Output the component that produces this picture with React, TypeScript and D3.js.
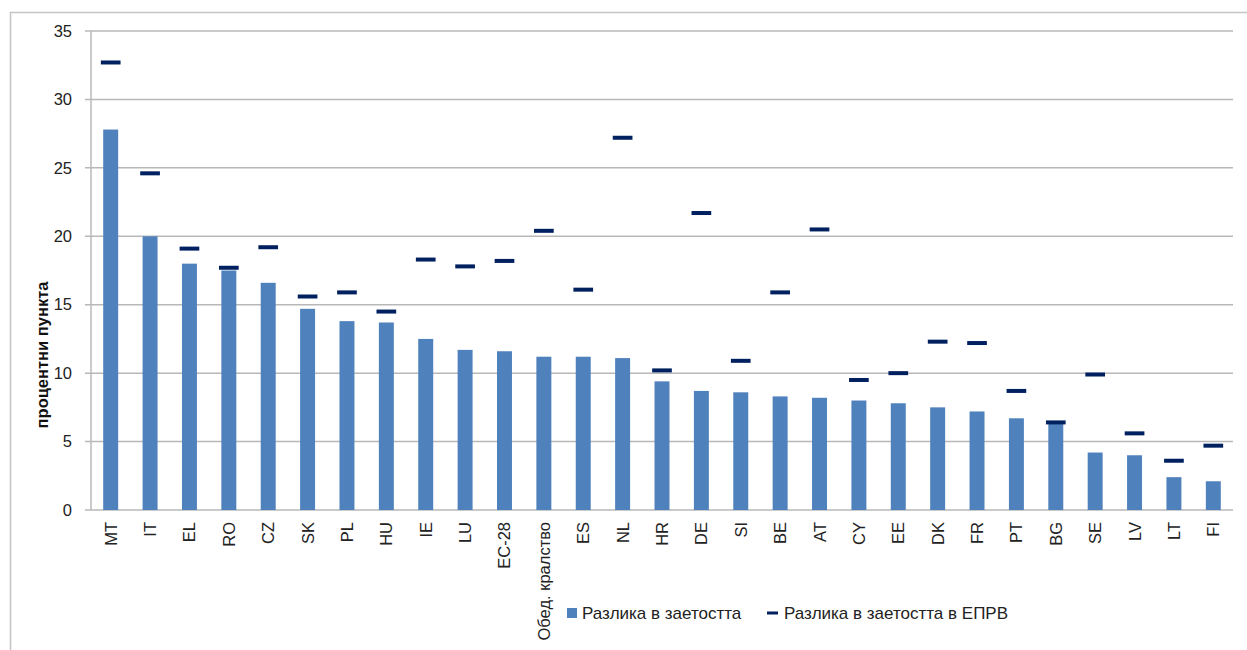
import React from "react";
import * as d3 from "d3";

// Държави (подредени по разликата в заетостта)
const countries = [
  "MT", "IT", "EL", "RO", "CZ", "SK", "PL", "HU", "IE", "LU", "EC-28",
  "Обед. кралство", "ES", "NL", "HR", "DE", "SI", "BE", "AT", "CY", "EE",
  "DK", "FR", "PT", "BG", "SE", "LV", "LT", "FI",
];

// Разлика в заетостта (колони)
const employmentGap = [
  27.8, 20.0, 18.0, 17.5, 16.6, 14.7, 13.8, 13.7, 12.5, 11.7, 11.6,
  11.2, 11.2, 11.1, 9.4, 8.7, 8.6, 8.3, 8.2, 8.0, 7.8,
  7.5, 7.2, 6.7, 6.5, 4.2, 4.0, 2.4, 2.1,
];

// Разлика в заетостта в ЕПРВ (маркери)
const fteGap = [
  32.7, 24.6, 19.1, 17.7, 19.2, 15.6, 15.9, 14.5, 18.3, 17.8, 18.2,
  20.4, 16.1, 27.2, 10.2, 21.7, 10.9, 15.9, 20.5, 9.5, 10.0,
  12.3, 12.2, 8.7, 6.4, 9.9, 5.6, 3.6, 4.7,
];

const yTicks = [0, 5, 10, 15, 20, 25, 30, 35];

const barLabel = "Разлика в заетостта";
const markerLabel = "Разлика в заетостта в ЕПРВ";
const yLabel = "процентни пункта";

export default function App() {
  const width = 1247;
  const height = 650;
  const margin = { top: 31, right: 14, bottom: 140, left: 91 };
  const font = "'Liberation Sans', Arial, sans-serif";
  const barColor = "#4F81BD";
  const markerColor = "#002060";
  const gridColor = "#b8b8b8";

  const x = d3.scaleBand<string>()
    .domain(countries)
    .range([margin.left, width - margin.right])
    .padding(0);

  const y = d3.scaleLinear()
    .domain([0, 35])
    .range([height - margin.bottom, margin.top]);

  const bw = x.bandwidth() * 0.38;
  const mw = x.bandwidth() * 0.5;

  return (
    <svg
      width={width}
      height={height}
      style={{ position: "absolute", left: 0, top: 0, background: "#fff", fontFamily: font }}
    >
      {/* рамка */}
      <rect x={10.5} y={12.5} width={width + 10} height={height + 10} fill="none" stroke="#c4c4c4" strokeWidth={1.5} />

      {/* мрежа и ос Y */}
      {yTicks.map(t => (
        <g key={t}>
          <line x1={margin.left - 6} x2={width - margin.right} y1={y(t)} y2={y(t)} stroke={gridColor} strokeWidth={1.5} />
          <text x={margin.left - 19} y={y(t)} dy="0.35em" textAnchor="end" fontSize={16.5} fill="#222">{t}</text>
        </g>
      ))}
      <line x1={margin.left} x2={margin.left} y1={margin.top} y2={y(0)} stroke={gridColor} strokeWidth={1.5} />

      <text
        transform={`translate(48,355) rotate(-90)`}
        textAnchor="middle"
        fontSize={16.5}
        fontWeight="bold"
        fill="#111"
      >
        {yLabel}
      </text>

      {/* колони */}
      {countries.map((c, i) => (
        <rect
          key={c}
          x={(x(c) ?? 0) + (x.bandwidth() - bw) / 2}
          y={y(employmentGap[i])}
          width={bw}
          height={y(0) - y(employmentGap[i])}
          fill={barColor}
        />
      ))}

      {/* маркери */}
      {countries.map((c, i) => (
        <rect
          key={c}
          x={(x(c) ?? 0) + (x.bandwidth() - mw) / 2}
          y={y(fteGap[i]) - 2}
          width={mw}
          height={4}
          fill={markerColor}
        />
      ))}

      {/* етикети на категориите */}
      {countries.map(c => (
        <text
          key={c}
          transform={`translate(${(x(c) ?? 0) + x.bandwidth() / 2 + 6},${y(0) + 12}) rotate(-90)`}
          textAnchor="end"
          fontSize={16.5}
          fill="#222"
        >
          {c}
        </text>
      ))}

      {/* легенда */}
      <g transform="translate(567,613)">
        <rect x={0} y={-5} width={10} height={10} fill={barColor} />
        <text x={15} y={0} dy="0.35em" fontSize={17} fill="#222">{barLabel}</text>
        <rect x={200} y={-1.5} width={11} height={3} fill={markerColor} />
        <text x={217} y={0} dy="0.35em" fontSize={17} fill="#222">{markerLabel}</text>
      </g>
    </svg>
  );
}
